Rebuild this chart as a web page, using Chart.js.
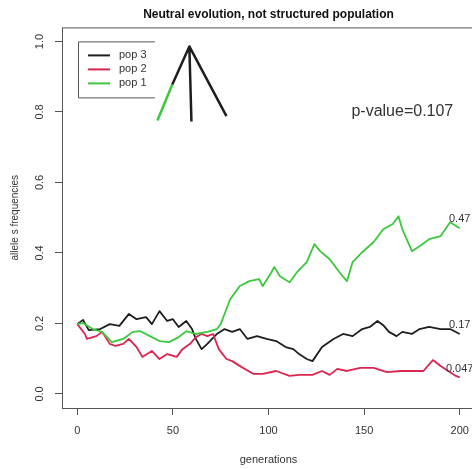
<!DOCTYPE html>
<html>
<head>
<meta charset="utf-8">
<script src="https://cdn.jsdelivr.net/npm/chart.js@4.4.0/dist/chart.umd.min.js"></script>
<style>
    html, body { margin: 0; padding: 0; background: #fff; overflow: hidden; }
    #wrap { width: 472px; height: 469px; overflow: hidden; }
</style>
</head>
<body>
<div id="wrap"><canvas id="driftChart" width="480" height="469"></canvas></div>
<script>
// allele frequencies
const pop3Gen = [0,3,6,12,17,22,27,31,36,39,43,47,50,53,57,60,62,65,68,73,77,81,85,89,94,99,104,109,113,116,120,123,128,134,139,144,149,153,157,160,163,167,170,175,179,184,190,195,200];
const pop3Freq = [0.198,0.21,0.181,0.184,0.198,0.193,0.227,0.212,0.218,0.198,0.235,0.207,0.212,0.19,0.207,0.184,0.156,0.127,0.142,0.17,0.184,0.176,0.184,0.156,0.164,0.156,0.15,0.133,0.127,0.113,0.099,0.093,0.133,0.156,0.17,0.164,0.184,0.19,0.207,0.195,0.176,0.164,0.176,0.17,0.184,0.19,0.184,0.184,0.17];

const pop2Gen = [0,4,5,10,13,17,20,24,27,31,34,39,43,47,52,55,59,62,65,68,71,74,78,81,86,92,97,104,111,116,123,128,132,136,141,148,155,162,169,175,181,186,190,194,198,200];
const pop2Freq = [0.198,0.17,0.156,0.164,0.176,0.142,0.136,0.142,0.156,0.133,0.105,0.122,0.099,0.113,0.105,0.127,0.142,0.161,0.17,0.164,0.17,0.127,0.099,0.093,0.076,0.057,0.057,0.065,0.051,0.054,0.054,0.065,0.054,0.071,0.065,0.074,0.074,0.062,0.065,0.065,0.065,0.096,0.079,0.065,0.051,0.047];

const pop1Gen = [0,3,8,13,18,24,29,33,38,43,48,53,57,62,68,73,75,78,80,85,90,95,97,101,103,106,111,115,120,124,127,132,137,141,144,149,155,160,165,168,170,175,179,184,190,195,200];
const pop1Freq = [0.198,0.201,0.184,0.176,0.147,0.156,0.176,0.178,0.164,0.15,0.147,0.161,0.178,0.17,0.176,0.184,0.198,0.241,0.269,0.306,0.32,0.326,0.306,0.34,0.36,0.334,0.317,0.346,0.374,0.425,0.405,0.382,0.346,0.32,0.374,0.402,0.431,0.467,0.482,0.504,0.467,0.405,0.419,0.439,0.448,0.487,0.47];

// the hand-drawn strokes near the legend (data coordinates)
const sketchBlackX = [49.7, 58.6, 59.7, 59, 58.6, 78];
const sketchBlackY = [0.878, 0.986, 0.773, null, 0.986, 0.788];
const sketchGreenX = [41.9, 49.7];
const sketchGreenY = [0.776, 0.878];

const xTicks = [0, 50, 100, 150, 200];
const yTicks = [0, 0.2, 0.4, 0.6, 0.8, 1.0];

const popNames = ['pop 3', 'pop 2', 'pop 1'];
const endLabels = ['0.17', '0.047', '0.47'];
const endValues = [0.17, 0.047, 0.47];
const pValueText = 'p-value=0.107';

const colors = {
    pop3: '#1e1e1e',
    pop2: '#dc2450',
    pop1: '#3cc83c',
    axis: '#555',
    text: '#333',
};
const popColors = [colors.pop3, colors.pop2, colors.pop1];

function toPoints(xs, ys) {
    return xs.map((x, i) => ({ x: x, y: ys[i] }));
}

const rPlotExtras = {
    id: 'rPlotExtras',
    afterDatasetsDraw(chart) {
        const { ctx, chartArea: a, scales: { x, y } } = chart;
        ctx.save();

        // box around the plot region
        ctx.strokeStyle = colors.axis;
        ctx.lineWidth = 1;
        ctx.strokeRect(a.left + 0.5, a.top + 0.5, a.right - a.left, a.bottom - a.top);

        // legend box (open on the right, as in the reference)
        const lx = a.left + 16, ly = a.top + 14, lw = 77, lh = 56;
        ctx.beginPath();
        ctx.moveTo(lx + lw, ly + 0.5);
        ctx.lineTo(lx + 0.5, ly + 0.5);
        ctx.lineTo(lx + 0.5, ly + lh + 0.5);
        ctx.lineTo(lx + lw, ly + lh + 0.5);
        ctx.stroke();

        ctx.font = "11px 'Liberation Sans', Arial, sans-serif";
        ctx.textBaseline = 'middle';
        ctx.textAlign = 'left';
        popNames.forEach((name, i) => {
            const yy = ly + 14 + i * 14;
            ctx.strokeStyle = popColors[i];
            ctx.lineWidth = 2;
            ctx.beginPath();
            ctx.moveTo(lx + 10, yy);
            ctx.lineTo(lx + 32, yy);
            ctx.stroke();
            ctx.fillStyle = colors.text;
            ctx.fillText(name, lx + 41, yy);
        });

        // p-value annotation
        ctx.font = "16px 'Liberation Sans', Arial, sans-serif";
        ctx.textAlign = 'center';
        ctx.fillStyle = colors.text;
        ctx.fillText(pValueText, x.getPixelForValue(170), y.getPixelForValue(0.8));

        // final frequency labels at generation 200
        ctx.font = "11px 'Liberation Sans', Arial, sans-serif";
        endLabels.forEach((lbl, i) => {
            ctx.fillText(lbl, x.getPixelForValue(200), y.getPixelForValue(endValues[i] + 0.025));
        });

        ctx.restore();
    }
};

document.addEventListener('DOMContentLoaded', () => {
    Chart.defaults.font.family = "'Liberation Sans', Arial, sans-serif";
    Chart.defaults.color = colors.text;

    const ctx = document.getElementById('driftChart');

    new Chart(ctx, {
        type: 'line',
        data: {
            datasets: [
                {
                    label: 'pop 1',
                    data: toPoints(pop1Gen, pop1Freq),
                    borderColor: colors.pop1,
                    borderWidth: 1.8,
                },
                {
                    label: 'pop 2',
                    data: toPoints(pop2Gen, pop2Freq),
                    borderColor: colors.pop2,
                    borderWidth: 1.8,
                },
                {
                    label: 'pop 3',
                    data: toPoints(pop3Gen, pop3Freq),
                    borderColor: colors.pop3,
                    borderWidth: 1.8,
                },
                {
                    label: 'sketch',
                    data: toPoints(sketchBlackX, sketchBlackY),
                    borderColor: colors.pop3,
                    borderWidth: 2.5,
                    spanGaps: false,
                },
                {
                    label: 'sketch green',
                    data: toPoints(sketchGreenX, sketchGreenY),
                    borderColor: colors.pop1,
                    borderWidth: 2.5,
                },
            ]
        },
        options: {
            responsive: false,
            animation: false,
            events: [],
            elements: {
                point: { radius: 0 },
                line: { tension: 0, fill: false, borderJoinStyle: 'round' }
            },
            layout: {
                padding: { top: 0, right: 5, bottom: 0, left: 0 }
            },
            plugins: {
                legend: { display: false },
                tooltip: { enabled: false },
                title: {
                    display: true,
                    fullSize: false,
                    text: 'Neutral evolution, not structured population',
                    color: '#111',
                    font: { size: 12, weight: 'bold' },
                    padding: { top: 7, bottom: 6 }
                }
            },
            scales: {
                x: {
                    type: 'linear',
                    min: -8,
                    max: 208,
                    afterBuildTicks: (scale) => {
                        scale.ticks = xTicks.map(v => ({ value: v }));
                    },
                    afterFit: (scale) => { scale.height = 61; },
                    border: { display: false },
                    grid: {
                        display: true,
                        drawOnChartArea: false,
                        drawTicks: true,
                        tickLength: 7,
                        color: colors.axis
                    },
                    ticks: {
                        color: colors.text,
                        font: { size: 11 },
                        padding: 9,
                        maxRotation: 0,
                        callback: (v) => String(v)
                    },
                    title: {
                        display: true,
                        text: 'generations',
                        color: colors.text,
                        font: { size: 11 },
                        padding: { top: 0, bottom: 2 }
                    }
                },
                y: {
                    type: 'linear',
                    min: -0.04,
                    max: 1.04,
                    afterBuildTicks: (scale) => {
                        scale.ticks = yTicks.map(v => ({ value: v }));
                    },
                    afterFit: (scale) => { scale.width = 62; },
                    border: { display: false },
                    grid: {
                        display: true,
                        drawOnChartArea: false,
                        drawTicks: true,
                        tickLength: 7,
                        color: colors.axis
                    },
                    ticks: {
                        color: colors.text,
                        font: { size: 11 },
                        padding: 7,
                        minRotation: 90,
                        maxRotation: 90,
                        crossAlign: 'center',
                        callback: (v) => v.toFixed(1)
                    },
                    title: {
                        display: true,
                        text: 'allele s frequencies',
                        color: colors.text,
                        font: { size: 10 },
                        padding: { top: 9, bottom: 0 }
                    }
                }
            }
        },
        plugins: [rPlotExtras]
    });
});
</script>
</body>
</html>
